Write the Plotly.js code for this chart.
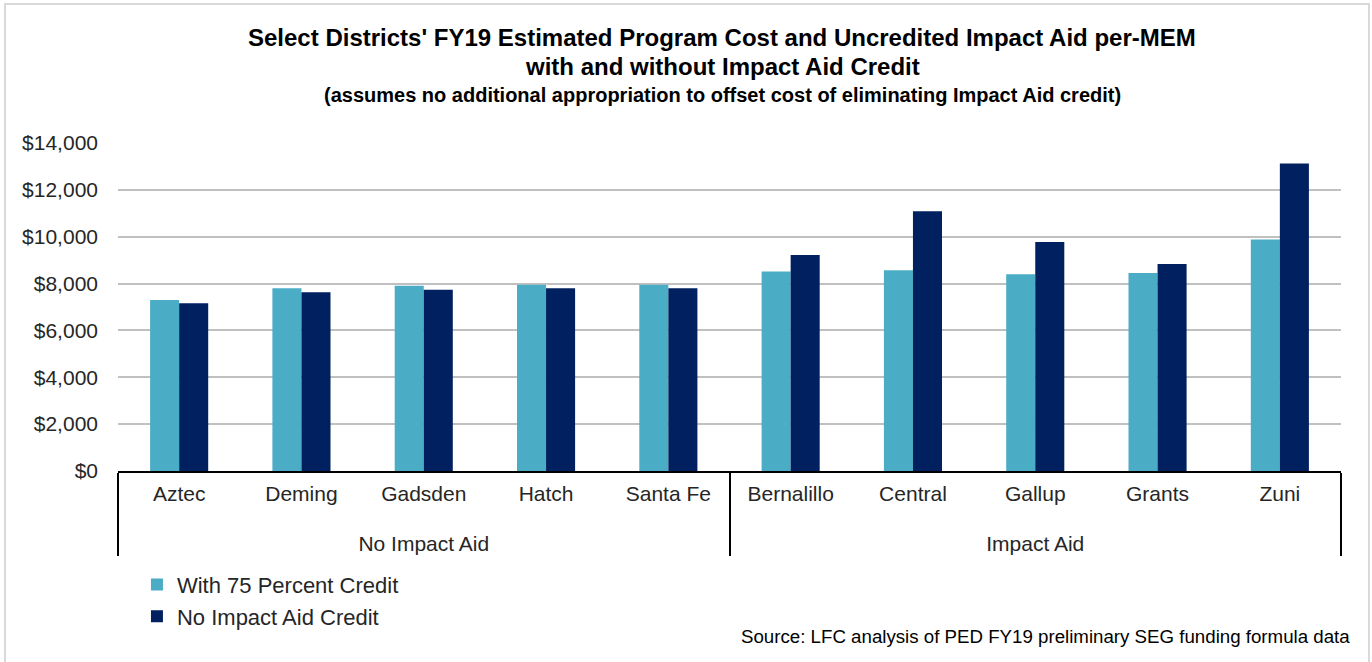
<!DOCTYPE html>
<html>
<head>
<meta charset="utf-8">
<script src="https://cdn.plot.ly/plotly-3.0.1.min.js"></script>
<style>
  html, body { margin: 0; padding: 0; background: #ffffff; }
  #frame { position: absolute; left: 4px; top: 3px; width: 1362px; height: 700px; border: 2px solid #d9d9d9; }
  #chart { position: absolute; left: 0; top: 0; width: 1372px; height: 662px; }
</style>
</head>
<body>
<div id="frame"></div>
<div id="chart"></div>
<script>
const groups = ["No Impact Aid","No Impact Aid","No Impact Aid","No Impact Aid","No Impact Aid",
                "Impact Aid","Impact Aid","Impact Aid","Impact Aid","Impact Aid"];
const districts = ["Aztec","Deming","Gadsden","Hatch","Santa Fe",
                   "Bernalillo","Central","Gallup","Grants","Zuni"];
const with75Credit = [7300, 7800, 7910, 7950, 7950, 8510, 8570, 8400, 8450, 9880];
const noCredit     = [7160, 7630, 7740, 7800, 7800, 9220, 11090, 9770, 8840, 13130];
const seriesNames = ["With 75 Percent Credit", "No Impact Aid Credit"];
const yTickVals = [0, 2000, 4000, 6000, 8000, 10000, 12000, 14000];
const yTickText = ["$0","$2,000","$4,000","$6,000","$8,000","$10,000","$12,000","$14,000"];

// group labels sit one line lower than district labels
const groupLabels = groups.map(g => "<br>" + g);

const FONT = "Liberation Sans, Arial, sans-serif";
const traces = [
  { type: "bar", name: seriesNames[0], x: [groupLabels, districts], y: with75Credit,
    marker: { color: "#4BACC6" }, hoverinfo: "y" },
  { type: "bar", name: seriesNames[1], x: [groupLabels, districts], y: noCredit,
    marker: { color: "#002060" }, hoverinfo: "y" }
];

const layout = {
  width: 1372, height: 662,
  margin: { l: 118, r: 31, t: 143, b: 191 },
  paper_bgcolor: "rgba(0,0,0,0)",
  plot_bgcolor: "#ffffff",
  font: { family: FONT, color: "#262626", size: 20 },
  barmode: "group",
  bargap: 0.525,
  bargroupgap: 0,
  showlegend: true,
  legend: { x: 0.0155, xanchor: "left", y: -0.283, yanchor: "top",
            font: { family: FONT, size: 22, color: "#262626" },
            orientation: "v", bgcolor: "rgba(0,0,0,0)" },
  xaxis: {
    type: "multicategory",
    showline: true, linecolor: "#000000", linewidth: 2,
    showgrid: false, ticks: "",
    ticklabelstandoff: 3,
    showdividers: true, dividercolor: "#000000", dividerwidth: 2,
    tickfont: { family: FONT, size: 21, color: "#262626" }
  },
  yaxis: {
    range: [0, 14000],
    tickvals: yTickVals, ticktext: yTickText,
    showgrid: true, gridcolor: "#c0c0c0", gridwidth: 2,
    zeroline: false, showline: false, ticks: "",
    ticklabelstandoff: 19,
    tickfont: { family: FONT, size: 21, color: "#262626" }
  },
  annotations: [
    { text: "<b>Select Districts' FY19 Estimated Program Cost and Uncredited Impact Aid per-MEM</b>",
      xref: "paper", yref: "paper", x: 0.494, y: 1.323, xanchor: "center", yanchor: "middle",
      showarrow: false, font: { family: FONT, size: 24, color: "#000000" } },
    { text: "<b>with and without Impact Aid Credit</b>",
      xref: "paper", yref: "paper", x: 0.494, y: 1.232, xanchor: "center", yanchor: "middle",
      showarrow: false, font: { family: FONT, size: 24, color: "#000000" } },
    { text: "<b>(assumes no additional appropriation to offset cost of eliminating Impact Aid credit)</b>",
      xref: "paper", yref: "paper", x: 0.494, y: 1.146, xanchor: "center", yanchor: "middle",
      showarrow: false, font: { family: FONT, size: 20, color: "#000000" } },
    { text: "Source: LFC analysis of PED FY19 preliminary SEG funding formula data",
      xref: "paper", yref: "paper", x: 1.009, y: -0.506, xanchor: "right", yanchor: "middle",
      showarrow: false, font: { family: FONT, size: 18.7, color: "#000000" } }
  ]
};

Plotly.newPlot("chart", traces, layout, { displayModeBar: false });
</script>
</body>
</html>
